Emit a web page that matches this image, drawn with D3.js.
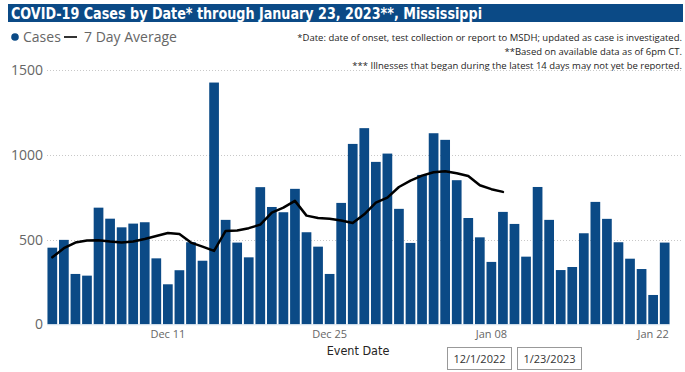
<!DOCTYPE html>
<html>
<head>
<meta charset="utf-8">
<script src="https://cdn.jsdelivr.net/npm/d3@7"></script>
<style>
  body { margin: 0; background: #fff; }
  svg { display: block; }
</style>
</head>
<body>
<div id="chart"></div>
<script>
// daily cases 12/1/2022 .. 1/23/2023
var startDate = new Date(2022, 11, 1);
var endDate = new Date(2023, 0, 23);
var dates = d3.timeDay.range(startDate, d3.timeDay.offset(endDate, 1));

var cases = [452, 498, 297, 287, 688, 623, 572, 594, 602, 389,
  236, 319, 484, 375, 1426, 616, 482, 395, 809, 692,
  661, 799, 543, 458, 297, 716, 1064, 1157, 958, 1007,
  681, 480, 881, 1127, 1088, 850, 627, 513, 368, 663,
  592, 399, 810, 616, 320, 338, 537, 722, 622, 484,
  387, 326, 173, 482];

// 7 day average stops 14 days before the end
var avg7 = [395, 449, 482, 494, 496, 488, 482, 488, 503, 521,
  539, 533, 482, 458, 433, 551, 553, 567, 588, 659,
  688, 728, 641, 627, 623, 612, 598, 649, 718, 747,
  810, 848, 877, 897, 903, 891, 875, 820, 797, 781];

var yTicks = [0, 500, 1000, 1500];
var xTickLabels = ["Dec 11", "Dec 25", "Jan 08", "Jan 22"];
var xTickIdx = [10, 24, 38, 52];

var notes = [
  "*Date: date of onset, test collection or report to MSDH; updated as case is investigated.",
  "**Based on available data as of 6pm CT.",
  "*** Illnesses that began during the latest 14 days may not yet be reported."
];

var W = 685, H = 372;
var blue = "#0b4a86";
var svg = d3.select("#chart").append("svg").attr("width", W).attr("height", H);

// title band
svg.append("rect").attr("x", 8).attr("y", 4).attr("width", 675).attr("height", 18).attr("fill", blue);
svg.append("text")
  .attr("x", 11).attr("y", 19)
  .attr("textLength", 471).attr("lengthAdjust", "spacingAndGlyphs")
  .style("font-family", "'DejaVu Sans Condensed', 'DejaVu Sans'")
  .style("font-weight", "bold").style("font-size", "16px").style("fill", "#fff")
  .text("COVID-19 Cases by Date* through January 23, 2023**, Mississippi");

// legend
var leg = svg.append("g").style("font-family", "'Open Sans', sans-serif").style("font-size", "14px").style("fill", "#666");
leg.append("circle").attr("cx", 15).attr("cy", 37).attr("r", 3.8).attr("fill", blue);
leg.append("text").attr("x", 23).attr("y", 42).text("Cases");
leg.append("line").attr("x1", 64).attr("x2", 77).attr("y1", 37).attr("y2", 37).attr("stroke", "#333").attr("stroke-width", 2);
leg.append("text").attr("x", 84).attr("y", 42).text("7 Day Average");

// notes
svg.append("g").selectAll("text").data(notes).enter().append("text")
  .attr("x", 682).attr("y", function (d, i) { return 41 + i * 14; })
  .attr("text-anchor", "end")
  .style("font-family", "'Open Sans', sans-serif").style("font-size", "9.5px").style("fill", "#252423")
  .text(function (d) { return d; });

// scales
var x = d3.scaleBand().domain(d3.range(dates.length)).range([47, 670]).paddingInner(0.16).paddingOuter(0.04);
var y = d3.scaleLinear().domain([0, 1500]).range([324.3, 70]);

// gridlines
svg.append("g").selectAll("line").data(yTicks.slice(1)).enter().append("line")
  .attr("x1", 47).attr("x2", 683)
  .attr("y1", function (d) { return Math.round(y(d)) + 0.5; })
  .attr("y2", function (d) { return Math.round(y(d)) + 0.5; })
  .attr("stroke", "#c8c8c8").attr("stroke-width", 1).attr("stroke-dasharray", "1,2");

// y axis
var yAxis = svg.append("g").attr("transform", "translate(43,0)")
  .call(d3.axisLeft(y).tickValues(yTicks).tickSize(0).tickPadding(0).tickFormat(d3.format("d")));
yAxis.select(".domain").remove();
yAxis.selectAll("text").style("font-family", "'Open Sans', sans-serif").style("font-size", "14px").style("fill", "#666");

// bars
svg.append("g").selectAll("rect").data(cases).enter().append("rect")
  .attr("x", function (d, i) { return x(i); })
  .attr("y", function (d) { return y(d); })
  .attr("width", x.bandwidth())
  .attr("height", function (d) { return y(0) - y(d); })
  .attr("fill", blue);

// baseline
svg.append("line").attr("x1", 47).attr("x2", 670).attr("y1", 324.8).attr("y2", 324.8)
  .attr("stroke", "#dce6f0").attr("stroke-width", 1);

// 7 day average line
var line = d3.line()
  .x(function (d, i) { return x(i) + x.bandwidth() / 2; })
  .y(function (d) { return y(d); });
svg.append("path").datum(avg7).attr("d", line)
  .attr("fill", "none").attr("stroke", "#000").attr("stroke-width", 2.5)
  .attr("stroke-linejoin", "round").attr("stroke-linecap", "round");

// x axis
var xAxis = svg.append("g").attr("transform", "translate(0,327)")
  .call(d3.axisBottom(x).tickValues(xTickIdx).tickSize(0).tickPadding(3)
    .tickFormat(function (d) { return xTickLabels[xTickIdx.indexOf(d)]; }));
xAxis.select(".domain").remove();
xAxis.selectAll("text").style("font-family", "'Open Sans', sans-serif").style("font-size", "11px").style("fill", "#666");

svg.append("text").attr("x", 358).attr("y", 355).attr("text-anchor", "middle")
  .style("font-family", "'DejaVu Sans Condensed', 'DejaVu Sans'").style("font-size", "12.5px").style("fill", "#252423")
  .text("Event Date");

// date range boxes
var boxes = [{ x: 447, label: "12/1/2022" }, { x: 517, label: "1/23/2023" }];
var bx = svg.append("g").selectAll("g").data(boxes).enter().append("g");
bx.append("rect").attr("x", function (d) { return d.x + 0.5; }).attr("y", 347.5).attr("width", 64).attr("height", 22)
  .attr("fill", "#fff").attr("stroke", "#999");
bx.append("text").attr("x", function (d) { return d.x + 32.5; }).attr("y", 363).attr("text-anchor", "middle")
  .style("font-family", "'Open Sans', sans-serif").style("font-size", "11px").style("fill", "#333")
  .text(function (d) { return d.label; });
</script>
</body>
</html>
